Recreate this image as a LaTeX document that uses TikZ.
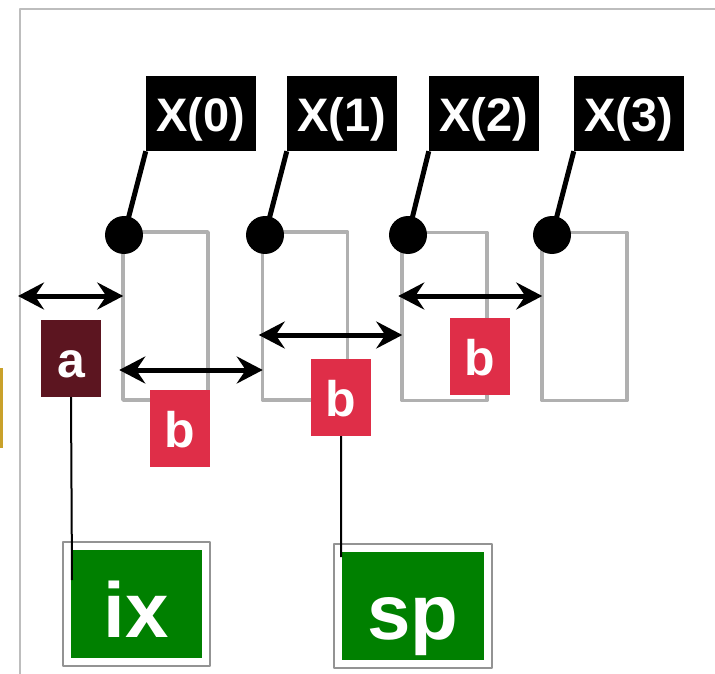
\documentclass[tikz,border=0pt]{standalone}
\usepackage{fontspec}
\setmainfont{Liberation Sans}
\usetikzlibrary{arrows.meta,fit}
\definecolor{boxgray}{HTML}{B0B0B0}
\definecolor{framegray}{HTML}{BDBDBD}
\definecolor{wine}{HTML}{5C1520}
\definecolor{crimson}{HTML}{DF2E48}
\definecolor{leaf}{HTML}{008000}
\definecolor{gold}{HTML}{C9A12A}
\begin{document}
\begin{tikzpicture}[x=1pt,y=-1pt,>={Stealth[length=26pt,width=27pt,inset=9pt]},line join=round,
		tag/.style={fill=black,text=white,font=\fontsize{47}{47}\selectfont\bfseries,minimum width=110pt,minimum height=75pt,inner sep=0pt,text height=37pt,text depth=0pt},
		cell/.style={draw=boxgray,line width=3.5pt,minimum width=85pt,minimum height=168pt,inner sep=0pt},
		dot/.style={circle,fill=black,minimum size=38pt,inner sep=0pt},
		gap/.style={<->,line width=5pt,shorten <=-2pt,shorten >=-2pt},
		letter/.style={text=white,font=\fontsize{50}{50}\selectfont\bfseries,minimum width=60pt,minimum height=77pt,inner sep=0pt,text height=37pt,text depth=0pt},
		reg/.style={fill=leaf,text=white,font=\fontsize{78}{78}\selectfont\bfseries,minimum height=108pt,inner sep=0pt,text height=66pt,text depth=0pt},
		regframe/.style={draw=gray!85,line width=2pt,inner sep=7.5pt}]
	\useasboundingbox (0,0) rectangle (715,674);
	% outer frame and side mark
	\draw [framegray,line width=2pt] (715,9)--(20,9)--(20,674);
	\fill [gold] (0,368) rectangle (3,448);
	% cells
	\node [cell] (r0) at (165.5,316) {};
	\node [cell] (r1) at (305,316) {};
	\node [cell] (r2) at (444.5,316.5) {};
	\node [cell] (r3) at (584.5,316.5) {};
	% distances
	\coordinate (edge) at (20,296);
	\draw [gap] (edge)--(r0.west |- edge);
	\draw [gap] (r0.west |- 0,370)--(r1.west |- 0,370);
	\draw [gap] (r1.west |- 0,335)--(r2.west |- 0,335);
	\draw [gap] (r2.west |- edge)--(r3.west |- edge);
	% start points
	\node [dot] (d0) at (124,235) {};
	\node [dot] (d1) at (265,235) {};
	\node [dot] (d2) at (408,235) {};
	\node [dot] (d3) at (552,235) {};
	\node [tag] (x0) at (201,113.5) {X(0)};
	\node [tag] (x1) at (342,113.5) {X(1)};
	\node [tag] (x2) at (484,113.5) {X(2)};
	\node [tag] (x3) at (629,113.5) {X(3)};
	\draw [line width=5pt] (x0.south west)--(d0.center)
		(x1.south west)--(d1.center)
		(x2.south west)--(d2.center)
		(x3.south west)--(d3.center);
	% sizes
	\node [letter,fill=wine] (a) at (71,358.5) {a};
	\node [letter,fill=crimson] (b0) at (180,428.5) {b};
	\node [letter,fill=crimson] (b1) at (341,397.5) {b};
	\node [letter,fill=crimson] (b2) at (480,356.5) {b};
	% registers
	\node [reg,minimum width=131pt] (ix) at (136.5,604) {ix};
	\node [regframe,fit=(ix)] (ixf) {};
	\node [reg,minimum width=142pt] (sp) at (413,606) {sp};
	\node [regframe,fit=(sp)] (spf) {};
	\coordinate (ixin) at (72,580);
	\coordinate (spin) at (341,557);
	\draw [line width=2pt] (a.south)--(ixin) (b1.south)--(spin);
\end{tikzpicture}
\end{document}
